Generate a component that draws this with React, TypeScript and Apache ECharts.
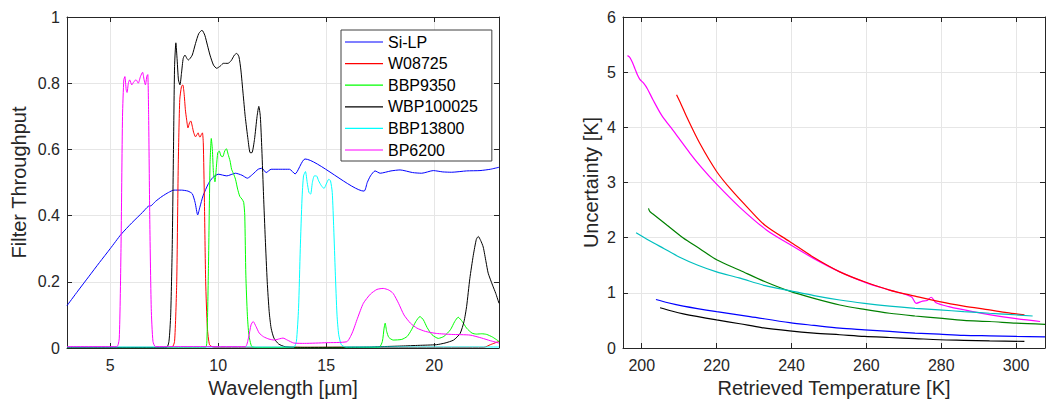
import React, { useEffect, useRef } from "react";
import * as echarts from "echarts";

// ---------- Left panel: filter throughput vs wavelength [µm] ----------
const filterNames = ["Si-LP", "W08725", "BBP9350", "WBP100025", "BBP13800", "BP6200"];
const filterColors = ["#0000ff", "#ff0000", "#00ff00", "#000000", "#00ffff", "#ff00ff"];

const siLP = [
  [3, 0.128], [3.5, 0.172], [4, 0.215], [4.5, 0.258], [5, 0.3], [5.5, 0.343], [6, 0.378],
  [6.5, 0.41], [6.76, 0.428], [6.9, 0.43], [7.1, 0.443], [7.4, 0.458], [7.7, 0.47], [7.95, 0.477],
  [8.3, 0.477], [8.6, 0.474], [8.8, 0.466], [8.93, 0.44], [9.05, 0.402], [9.15, 0.425], [9.3, 0.46],
  [9.55, 0.497], [9.75, 0.515], [10.0, 0.525], [10.4, 0.52], [10.8, 0.528], [11.1, 0.522],
  [11.35, 0.513], [11.6, 0.525], [11.85, 0.54], [12.02, 0.543], [12.22, 0.53], [12.45, 0.54],
  [12.9, 0.54], [13.3, 0.54], [13.56, 0.526], [14.02, 0.571], [16.75, 0.474], [16.9, 0.5],
  [17.05, 0.52], [17.26, 0.535], [17.5, 0.528], [18.0, 0.535], [18.42, 0.538], [19.0, 0.53],
  [19.42, 0.528], [19.96, 0.536], [20.4, 0.532], [20.81, 0.531], [21.5, 0.535], [22.12, 0.536],
  [22.6, 0.54], [23, 0.546],
];

const w08725 = [
  [3, 0.002], [7.85, 0.002], [7.98, 0.02], [8.08, 0.2], [8.15, 0.55], [8.22, 0.75], [8.3, 0.79],
  [8.36, 0.795], [8.42, 0.77], [8.48, 0.72], [8.54, 0.689], [8.6, 0.665], [8.67, 0.68], [8.73, 0.686],
  [8.8, 0.67], [8.86, 0.652], [8.95, 0.638], [9.02, 0.645], [9.07, 0.65], [9.12, 0.64], [9.16, 0.637],
  [9.22, 0.645], [9.27, 0.65], [9.31, 0.62], [9.36, 0.45], [9.42, 0.2], [9.5, 0.06], [9.6, 0.01],
  [9.8, 0.002], [22.3, 0.002], [22.6, 0.01], [23, 0.02],
];

const bbp9350 = [
  [3, 0.001], [9.4, 0.001], [9.48, 0.03], [9.55, 0.25], [9.62, 0.55], [9.68, 0.633], [9.73, 0.6],
  [9.78, 0.53], [9.85, 0.502], [9.92, 0.55], [9.98, 0.59], [10.05, 0.595], [10.13, 0.58],
  [10.21, 0.578], [10.3, 0.595], [10.38, 0.602], [10.46, 0.585], [10.55, 0.565], [10.62, 0.54],
  [10.7, 0.528], [10.8, 0.51], [10.9, 0.48], [11.0, 0.458], [11.1, 0.45], [11.18, 0.44],
  [11.23, 0.4], [11.28, 0.22], [11.35, 0.1], [11.42, 0.04], [11.55, 0.005], [11.8, 0.001],
  [17.45, 0.002], [17.6, 0.02], [17.68, 0.06], [17.73, 0.075], [17.8, 0.05], [17.9, 0.032],
  [18.1, 0.024], [18.5, 0.026], [18.75, 0.035], [18.95, 0.055], [19.15, 0.08], [19.34, 0.095],
  [19.5, 0.085], [19.67, 0.062], [19.9, 0.04], [20.19, 0.029], [20.45, 0.035], [20.75, 0.055],
  [20.95, 0.08], [21.11, 0.093], [21.3, 0.08], [21.5, 0.06], [21.75, 0.045], [21.96, 0.042],
  [22.2, 0.043], [22.43, 0.041], [22.7, 0.033], [23, 0.02],
];

const wbp100025 = [
  [3, 0.001], [7.6, 0.001], [7.72, 0.02], [7.8, 0.1], [7.87, 0.3], [7.93, 0.6], [7.98, 0.85],
  [8.04, 0.922], [8.1, 0.87], [8.16, 0.81], [8.23, 0.795], [8.3, 0.83], [8.38, 0.875], [8.46, 0.885],
  [8.55, 0.875], [8.62, 0.87], [8.7, 0.875], [8.8, 0.885], [8.95, 0.92], [9.1, 0.95], [9.25, 0.96],
  [9.38, 0.945], [9.5, 0.915], [9.62, 0.885], [9.78, 0.855], [9.93, 0.845], [10.1, 0.852],
  [10.24, 0.86], [10.45, 0.86], [10.6, 0.868], [10.75, 0.885], [10.86, 0.89], [10.96, 0.88],
  [11.05, 0.84], [11.15, 0.77], [11.25, 0.7], [11.38, 0.63], [11.48, 0.59], [11.56, 0.59],
  [11.68, 0.63], [11.8, 0.7], [11.88, 0.73], [11.95, 0.7], [12.02, 0.6], [12.1, 0.46], [12.18, 0.33],
  [12.27, 0.2], [12.36, 0.11], [12.45, 0.06], [12.58, 0.03], [12.8, 0.012], [13.1, 0.004],
  [14, 0.002], [17.0, 0.003], [17.5, 0.004], [18.5, 0.006], [19.3, 0.008], [20.1, 0.01],
  [20.5, 0.015], [20.9, 0.024], [21.2, 0.044], [21.38, 0.08], [21.5, 0.125], [21.65, 0.21],
  [21.81, 0.28], [21.95, 0.328], [22.04, 0.337], [22.15, 0.325], [22.27, 0.305], [22.4, 0.26],
  [22.5, 0.226], [22.7, 0.19], [22.85, 0.165], [23, 0.135],
];

const bbp13800 = [
  [3, 0.003], [13.5, 0.003], [13.62, 0.02], [13.72, 0.12], [13.8, 0.3], [13.88, 0.45], [13.95, 0.52],
  [14.04, 0.533], [14.12, 0.5], [14.2, 0.47], [14.28, 0.465], [14.36, 0.5], [14.45, 0.52],
  [14.55, 0.52], [14.65, 0.505], [14.78, 0.49], [14.9, 0.482], [15.0, 0.495], [15.12, 0.51],
  [15.2, 0.505], [15.28, 0.47], [15.35, 0.36], [15.42, 0.23], [15.5, 0.1], [15.58, 0.04],
  [15.7, 0.01], [15.9, 0.003], [23, 0.003],
];

const bp6200 = [
  [3, 0.004], [5.3, 0.004], [5.42, 0.03], [5.5, 0.3], [5.57, 0.7], [5.63, 0.81], [5.68, 0.82],
  [5.74, 0.78], [5.78, 0.772], [5.84, 0.8], [5.9, 0.81], [6.0, 0.795], [6.1, 0.805], [6.2, 0.81],
  [6.3, 0.8], [6.4, 0.82], [6.5, 0.833], [6.57, 0.81], [6.63, 0.795], [6.7, 0.822], [6.74, 0.826],
  [6.78, 0.7], [6.83, 0.4], [6.9, 0.12], [6.98, 0.02], [7.1, 0.004], [11.25, 0.004], [11.4, 0.03],
  [11.52, 0.07], [11.62, 0.08], [11.75, 0.065], [11.9, 0.045], [12.1, 0.034], [12.35, 0.027],
  [12.6, 0.024], [12.85, 0.028], [13.0, 0.03], [13.2, 0.024], [13.5, 0.015], [14.0, 0.014],
  [15.0, 0.016], [15.95, 0.019], [16.2, 0.045], [16.45, 0.09], [16.72, 0.135], [17.05, 0.163],
  [17.35, 0.177], [17.64, 0.18], [17.9, 0.175], [18.1, 0.165], [18.35, 0.135], [18.6, 0.1],
  [18.9, 0.075], [19.2, 0.06], [19.6, 0.05], [20.1, 0.044], [20.8, 0.041], [21.66, 0.039],
  [22.2, 0.03], [22.6, 0.022], [23, 0.015],
];

const filterData = [siLP, w08725, bbp9350, wbp100025, bbp13800, bp6200];

// ---------- Right panel: uncertainty [K] vs retrieved temperature [K] ----------
const tempColors = ["#ff00ff", "#ff0000", "#008000", "#00bfbf", "#0000ff", "#000000"];

const uncMagenta = [
  [196.2, 5.3], [196.8, 5.27], [197.5, 5.18], [198.2, 5.06], [198.8, 4.96], [199.5, 4.87],
  [200.5, 4.8], [201.5, 4.7], [203, 4.5], [205.3, 4.22], [207.5, 4.02], [209.3, 3.86],
  [212.9, 3.53], [216, 3.27], [220, 2.97], [226.2, 2.55], [233.3, 2.14], [239.5, 1.88],
  [246, 1.62], [252.9, 1.38], [260, 1.18], [266.2, 1.05], [272, 0.93], [273.3, 0.81], [275, 0.85],
  [276.2, 0.86], [277.3, 0.92], [278.6, 0.82], [282, 0.75], [288.4, 0.66], [297, 0.56], [306.4, 0.48],
];
const uncRed = [
  [209.3, 4.59], [210.5, 4.42], [212, 4.19], [215.5, 3.71], [220, 3.2], [224, 2.86], [228.9, 2.5],
  [233, 2.22], [239.5, 1.93], [246, 1.64], [252.9, 1.38], [259.5, 1.2], [266.2, 1.05], [273, 0.94],
  [279.5, 0.84], [286, 0.76], [292.9, 0.69], [297.5, 0.64], [302.2, 0.6],
];
const uncGreen = [
  [201.8, 2.53], [202.2, 2.47], [203, 2.43], [206.7, 2.23], [211, 2.0], [215.5, 1.8], [220, 1.6],
  [226.2, 1.41], [233, 1.2], [239.5, 1.03], [246, 0.9], [252.9, 0.78], [259.5, 0.7], [266.2, 0.63],
  [273, 0.58], [279.5, 0.54], [286, 0.5], [292.9, 0.48], [300, 0.45], [307.7, 0.43],
];
const uncCyan = [
  [198.5, 2.09], [202, 1.95], [206, 1.8], [210, 1.65], [215, 1.5], [220, 1.38], [226, 1.27],
  [233, 1.13], [239.5, 1.04], [246, 0.95], [252.9, 0.87], [259.5, 0.81], [266.2, 0.76], [273, 0.72],
  [279.5, 0.69], [286, 0.66], [292.9, 0.63], [298, 0.61], [304.4, 0.58],
];
const uncBlue = [
  [203.8, 0.88], [207, 0.82], [211.1, 0.76], [220, 0.66], [228.9, 0.57], [239.5, 0.46], [246, 0.41],
  [252.9, 0.36], [259.5, 0.33], [266.2, 0.3], [273, 0.27], [279.5, 0.25], [286, 0.23], [292.9, 0.22],
  [300, 0.21], [307.7, 0.2],
];
const uncBlack = [
  [204.9, 0.73], [208, 0.67], [211.1, 0.62], [220, 0.51], [226.2, 0.44], [232, 0.37], [239.5, 0.31],
  [246, 0.27], [252.9, 0.24], [259.5, 0.21], [266.2, 0.19], [273, 0.17], [279.5, 0.15], [286, 0.14],
  [292.9, 0.13], [302.2, 0.12],
];
const tempData = [uncMagenta, uncRed, uncGreen, uncCyan, uncBlue, uncBlack];

const FONT = '"Liberation Sans", Arial, Helvetica, sans-serif';
const AX = "#262626";
const GRIDC = "#e6e6e6";

function mainX(grid: number, min: number, max: number, step: number, name: string, gap: number) {
  return {
    type: "value", gridIndex: grid, position: "bottom", min, max, minInterval: step, maxInterval: step,
    name, nameLocation: "middle", nameGap: gap,
    nameTextStyle: { fontSize: 20, color: AX, fontFamily: FONT },
    axisLine: { show: true, onZero: false, lineStyle: { color: AX, width: 1 } },
    axisTick: { show: true, inside: true, length: 5, lineStyle: { color: AX } },
    axisLabel: { show: true, fontSize: 16, color: AX, fontFamily: FONT, margin: 9, showMinLabel: false, showMaxLabel: false },
    splitLine: { show: true, lineStyle: { color: GRIDC, width: 1 } },
  };
}
function boxX(grid: number, min: number, max: number, step: number) {
  return {
    type: "value", gridIndex: grid, position: "top", min, max, minInterval: step, maxInterval: step,
    axisLine: { show: true, onZero: false, lineStyle: { color: AX, width: 1 } },
    axisTick: { show: true, inside: true, length: 5, lineStyle: { color: AX } },
    axisLabel: { show: false }, splitLine: { show: false },
  };
}
function mainY(grid: number, min: number, max: number, step: number, name: string, gap: number) {
  return {
    type: "value", gridIndex: grid, position: "left", min, max, interval: step,
    name, nameLocation: "middle", nameGap: gap,
    nameTextStyle: { fontSize: 20, color: AX, fontFamily: FONT },
    axisLine: { show: true, onZero: false, lineStyle: { color: AX, width: 1 } },
    axisTick: { show: true, inside: true, length: 5, lineStyle: { color: AX } },
    axisLabel: { show: true, fontSize: 16, color: AX, fontFamily: FONT, margin: 7 },
    splitLine: { show: true, lineStyle: { color: GRIDC, width: 1 } },
  };
}
function boxY(grid: number, min: number, max: number, step: number) {
  return {
    type: "value", gridIndex: grid, position: "right", min, max, interval: step,
    axisLine: { show: true, onZero: false, lineStyle: { color: AX, width: 1 } },
    axisTick: { show: true, inside: true, length: 5, lineStyle: { color: AX } },
    axisLabel: { show: false }, splitLine: { show: false },
  };
}

export default function App() {
  const ref = useRef<HTMLDivElement>(null);
  useEffect(() => {
    if (!ref.current) return;
    const chart = echarts.init(ref.current, undefined, { renderer: "svg" });
    const series: any[] = [];
    filterData.forEach((d, i) => {
      series.push({
        type: "line", name: filterNames[i], xAxisIndex: 0, yAxisIndex: 0, data: d,
        symbol: "none", smooth: 0.2, color: filterColors[i],
        itemStyle: { color: filterColors[i] },
        lineStyle: { width: 1, color: filterColors[i] },
        silent: true, clip: true,
      });
    });
    tempData.forEach((d, i) => {
      series.push({
        type: "line", name: "T" + i, xAxisIndex: 2, yAxisIndex: 2, data: d,
        symbol: "none", smooth: 0.3, color: tempColors[i], lineStyle: { width: 1.2, color: tempColors[i] },
        silent: true, clip: true,
      });
    });
    chart.setOption({
      animation: false,
      backgroundColor: "#ffffff",
      textStyle: { fontFamily: FONT },
      grid: [
        { left: 67, top: 17, width: 432, height: 331 },
        { left: 623, top: 17, width: 422, height: 331 },
      ],
      xAxis: [
        mainX(0, 3, 23, 5, "Wavelength [µm]", 23),
        boxX(0, 3, 23, 5),
        mainX(1, 195, 307.7, 20, "Retrieved Temperature [K]", 23),
        boxX(1, 195, 307.7, 20),
      ],
      yAxis: [
        mainY(0, 0, 1, 0.2, "Filter Throughput", 38),
        boxY(0, 0, 1, 0.2),
        mainY(1, 0, 6, 1, "Uncertainty [K]", 22),
        boxY(1, 0, 6, 1),
      ],
      legend: {
        data: filterNames.map((n, i) => ({
          name: n, icon: "rect",
          itemStyle: { color: filterColors[i], borderWidth: 0, opacity: 1 },
        })),
        orient: "vertical", left: 341, top: 30,
        itemWidth: 38, itemHeight: 1.2, itemGap: 5.6, padding: [4, 14, 3, 4],
        borderColor: "#404040", borderWidth: 1, backgroundColor: "#ffffff",
        textStyle: { fontSize: 16, color: "#000000", fontFamily: FONT },
        selectedMode: false,
      },
      series,
    });
    return () => chart.dispose();
  }, []);
  return (
    <div
      ref={ref}
      style={{ position: "absolute", left: 0, top: 0, width: 1046, height: 403, background: "#fff" }}
    />
  );
}
